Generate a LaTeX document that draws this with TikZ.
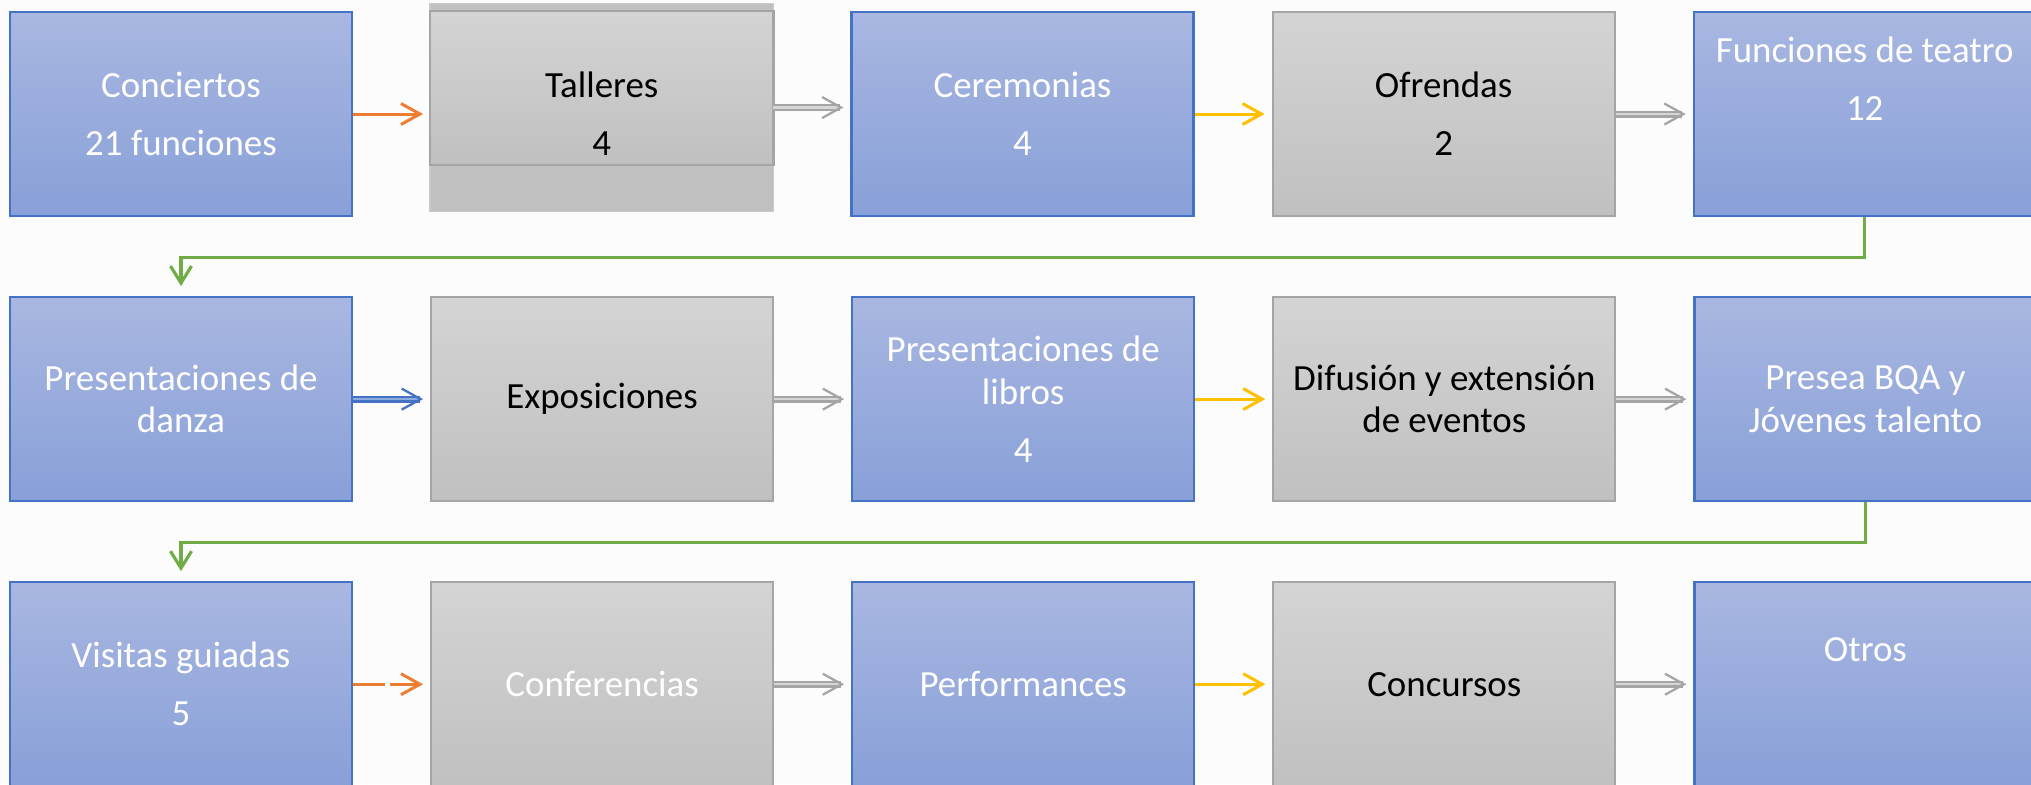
\documentclass[tikz,border=0pt]{standalone}
\usepackage{fontspec}
\setmainfont{Carlito}
\usetikzlibrary{positioning,arrows.meta,backgrounds,calc}
\definecolor{boxblue}{HTML}{4472C4}
\definecolor{bluetop}{HTML}{A9B7E1}
\definecolor{bluebot}{HTML}{88A0D8}
\definecolor{bluein}{HTML}{8FAADC}
\definecolor{graytop}{HTML}{D4D4D4}
\definecolor{graybot}{HTML}{C0C0C0}
\definecolor{grayline}{HTML}{A5A5A5}
\definecolor{grayin}{HTML}{D6D6D6}
\definecolor{orangeline}{HTML}{ED7D31}
\definecolor{goldline}{HTML}{FFC000}
\definecolor{greenline}{HTML}{70AD47}
\definecolor{pagebg}{HTML}{FCFCFC}
\newcommand{\parbrk}{\\[4.5pt]}
\newcommand{\tailbrk}{\\[8pt]\mbox{}}
\tikzset{
	box/.style={minimum width=3.42cm, minimum height=2.04cm, inner sep=0pt, align=center, font=\fontsize{10.5}{12}\selectfont},
	bluebox/.style={box, draw=boxblue, line width=0.6pt, top color=bluetop, bottom color=bluebot, text=white},
	graybox/.style={box, draw=grayline, line width=0.6pt, top color=graytop, bottom color=graybot, text=black},
	flow/.style={-{Straight Barb[length=1.9mm,width=2.1mm]}, line width=0.85pt, shorten >=0.07cm},
	orangeflow/.style={flow, orangeline},
	goldflow/.style={flow, goldline},
	grayflow/.style={flow, line width=0.65pt, draw=grayline, double=grayin, double distance=0.7pt},
	blueflow/.style={flow, line width=0.65pt, draw=boxblue, double=bluein, double distance=0.7pt},
	wrap/.style={-{Straight Barb[length=1.7mm,width=2.1mm]}, greenline, line width=0.9pt, shorten >=0.1cm}
}

\begin{document}
\begin{tikzpicture}[node distance=0.79cm and 0.77cm]
	\useasboundingbox (0,0) rectangle (20.31,-7.84);

	\node[bluebox] (conciertos) at (1.81,-1.14) {Conciertos\parbrk 21 funciones};
	\node[box, right=of conciertos] (talleres) {Talleres\parbrk 4};
	\node[bluebox, right=of talleres] (ceremonias) {Ceremonias\parbrk 4};
	\node[graybox, right=of ceremonias] (ofrendas) {Ofrendas\parbrk 2};
	\node[bluebox, right=of ofrendas] (teatro) {Funciones de teatro\parbrk 12\tailbrk};

	\node[bluebox, below=of conciertos] (danza) {Presentaciones de\\danza};
	\node[graybox, right=of danza] (exposiciones) {Exposiciones};
	\node[bluebox, right=of exposiciones] (libros) {Presentaciones de\\libros\parbrk 4};
	\node[graybox, right=of libros] (difusion) {Difusión y extensión\\de eventos};
	\node[bluebox, right=of difusion] (presea) {Presea BQA y\\Jóvenes talento};

	\node[bluebox, below=of danza] (visitas) {Visitas guiadas\parbrk 5};
	\node[graybox, right=of visitas, text=white] (conferencias) {Conferencias};
	\node[bluebox, right=of conferencias] (performances) {Performances};
	\node[graybox, right=of performances] (concursos) {Concursos};
	\node[bluebox, right=of concursos] (otros) {Otros\tailbrk};

	\begin{pgfonlayer}{background}
		\fill[pagebg] (0,0) rectangle (20.31,-7.84);
		\draw[grayline!60, fill=graybot] ($(talleres.north west)+(0,0.08)$) rectangle ($(talleres.south east)+(0,0.05)$);
		\draw[grayline, line width=0.6pt, top color=graytop, bottom color=graybot] (talleres.north west) rectangle ($(talleres.north east)+(0,-1.54)$);
	\end{pgfonlayer}

	\draw[orangeflow] (conciertos.east) -- (talleres.west);
	\draw[grayflow] ($(talleres.east)+(0,0.065)$) -- ($(ceremonias.west)+(0,0.065)$);
	\draw[goldflow] (ceremonias.east) -- (ofrendas.west);
	\draw[grayflow] (ofrendas.east) -- (teatro.west);
	\draw[wrap] (teatro.south) -- ++(0,-0.405) -| (danza.north);

	\draw[blueflow] (danza.east) -- (exposiciones.west);
	\draw[grayflow] (exposiciones.east) -- (libros.west);
	\draw[goldflow] (libros.east) -- (difusion.west);
	\draw[grayflow] (difusion.east) -- (presea.west);
	\draw[wrap] (presea.south) -- ++(0,-0.405) -| (visitas.north);

	\draw[orangeflow, dash pattern=on 3.2mm off 0.5mm] (visitas.east) -- (conferencias.west);
	\draw[grayflow] (conferencias.east) -- (performances.west);
	\draw[goldflow] (performances.east) -- (concursos.west);
	\draw[grayflow] (concursos.east) -- (otros.west);
\end{tikzpicture}
\end{document}
